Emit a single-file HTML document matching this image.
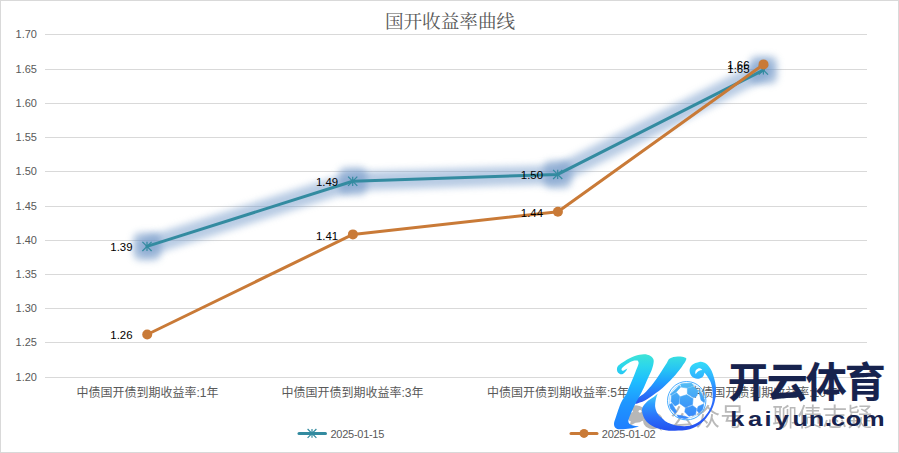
<!DOCTYPE html>
<html lang="zh-CN">
<head>
<meta charset="utf-8">
<title>国开收益率曲线</title>
<style>
html,body{margin:0;padding:0;background:#fff;}
body{width:899px;height:453px;overflow:hidden;position:relative;}
svg{position:absolute;left:0;top:0;display:block;}
.ax{font-family:"Liberation Sans","Noto Sans CJK SC",sans-serif;font-size:11px;fill:#595959;}
.cat{font-family:"Liberation Sans","Noto Sans CJK SC",sans-serif;font-size:12px;fill:#595959;}
.dl{font-family:"Liberation Sans","Noto Sans CJK SC",sans-serif;font-size:11.4px;fill:#000;}
.ttl{font-family:"Liberation Serif","Noto Serif CJK SC",serif;font-size:18.6px;fill:#595959;}
.lg{font-family:"Liberation Sans","Noto Sans CJK SC",sans-serif;font-size:11px;fill:#595959;letter-spacing:-0.27px;}
.wm{font-family:"Liberation Sans","Noto Sans CJK SC",sans-serif;font-weight:400;font-size:25px;fill:#9c9c9c;}
.cn{font-family:"Liberation Sans","Noto Sans CJK SC",sans-serif;font-weight:700;font-size:41px;fill:#17234e;stroke:#17234e;stroke-width:0.15px;}
.en{font-family:"Liberation Sans","Noto Sans CJK SC",sans-serif;font-weight:700;font-size:20px;fill:#17234e;}
</style>
</head>
<body>
<svg width="899" height="453" viewBox="0 0 899 453">
<defs>
  <filter id="glow" x="-10%" y="-30%" width="120%" height="160%">
    <feGaussianBlur stdDeviation="3.8"/>
  </filter>
  <linearGradient id="gstem" gradientUnits="userSpaceOnUse" x1="0" y1="354" x2="0" y2="430">
    <stop offset="0" stop-color="#3fe4d6"/>
    <stop offset="0.16" stop-color="#2cd6ec"/>
    <stop offset="0.36" stop-color="#1ebdff"/>
    <stop offset="0.62" stop-color="#1e98ff"/>
    <stop offset="1" stop-color="#1e7eff"/>
  </linearGradient>
  <linearGradient id="garm" gradientUnits="userSpaceOnUse" x1="0" y1="356" x2="0" y2="404">
    <stop offset="0" stop-color="#38dfe0"/>
    <stop offset="0.3" stop-color="#25c2f5"/>
    <stop offset="0.55" stop-color="#1f9dff"/>
    <stop offset="0.78" stop-color="#2876fa"/>
    <stop offset="1" stop-color="#2c52ec"/>
  </linearGradient>
  <linearGradient id="gleg" gradientUnits="userSpaceOnUse" x1="0" y1="393" x2="0" y2="431">
    <stop offset="0" stop-color="#48d2f8"/>
    <stop offset="0.3" stop-color="#2d9cff"/>
    <stop offset="0.65" stop-color="#2a6ffa"/>
    <stop offset="1" stop-color="#2450ee"/>
  </linearGradient>
  <linearGradient id="gsw" gradientUnits="userSpaceOnUse" x1="0" y1="362" x2="0" y2="431">
    <stop offset="0" stop-color="#34dcf8"/>
    <stop offset="0.2" stop-color="#30b8ff"/>
    <stop offset="0.42" stop-color="#2c80ff"/>
    <stop offset="0.7" stop-color="#2a62fa"/>
    <stop offset="1" stop-color="#2450f0"/>
  </linearGradient>
  <linearGradient id="gball" gradientUnits="userSpaceOnUse" x1="0" y1="382" x2="0" y2="420">
    <stop offset="0" stop-color="#55bff4"/>
    <stop offset="0.5" stop-color="#3f9ff7"/>
    <stop offset="1" stop-color="#3583fd"/>
  </linearGradient>
  <clipPath id="clipL"><rect x="600" y="340" width="75" height="113"/></clipPath>
  <clipPath id="clipR"><rect x="675" y="340" width="80" height="113"/></clipPath>
</defs>
<!-- background + border -->
<rect x="0" y="0" width="899" height="453" fill="#fff"/>
<rect x="0.5" y="0.5" width="898" height="452" fill="#fff" stroke="#d9d9d9" stroke-width="1"/>

<!-- gridlines -->
<g stroke="#d9d9d9" stroke-width="1" shape-rendering="crispEdges">
  <line x1="45" x2="867" y1="34.5" y2="34.5"/>
  <line x1="45" x2="867" y1="69.5" y2="69.5"/>
  <line x1="45" x2="867" y1="103.5" y2="103.5"/>
  <line x1="45" x2="867" y1="137.5" y2="137.5"/>
  <line x1="45" x2="867" y1="171.5" y2="171.5"/>
  <line x1="45" x2="867" y1="206.5" y2="206.5"/>
  <line x1="45" x2="867" y1="240.5" y2="240.5"/>
  <line x1="45" x2="867" y1="274.5" y2="274.5"/>
  <line x1="45" x2="867" y1="308.5" y2="308.5"/>
  <line x1="45" x2="867" y1="342.5" y2="342.5"/>
  <line x1="45" x2="867" y1="377.5" y2="377.5"/>
</g>

<!-- y axis labels -->
<g class="ax" text-anchor="end">
  <text x="37" y="38.1">1.70</text>
  <text x="37" y="73.1">1.65</text>
  <text x="37" y="107.1">1.60</text>
  <text x="37" y="141.1">1.55</text>
  <text x="37" y="175.1">1.50</text>
  <text x="37" y="210.1">1.45</text>
  <text x="37" y="244.1">1.40</text>
  <text x="37" y="278.1">1.35</text>
  <text x="37" y="312.1">1.30</text>
  <text x="37" y="346.1">1.25</text>
  <text x="37" y="381.1">1.20</text>
</g>

<!-- title -->
<text class="ttl" x="450" y="28" text-anchor="middle">国开收益率曲线</text>

<!-- category labels -->
<g class="cat" text-anchor="middle">
  <text x="147.5" y="397">中债国开债到期收益率:1年</text>
  <text x="352.5" y="397">中债国开债到期收益率:3年</text>
  <text x="558" y="397">中债国开债到期收益率:5年</text>
  <text x="763.5" y="397">中债国开债到期收益率:10年</text>
</g>

<!-- glow of first series -->
<g filter="url(#glow)" opacity="0.52">
  <polyline points="147.0,246.4 352.7,181.3 557.7,174.4 763.4,70.0" fill="none" stroke="#779ccb" stroke-width="19" stroke-linecap="round" stroke-linejoin="round"/>
</g>
<g filter="url(#glow)" opacity="0.5">
  <g fill="#6890c3">
    <rect x="133.0" y="232.4" width="28" height="28" rx="7"/>
    <rect x="338.7" y="167.3" width="28" height="28" rx="7"/>
    <rect x="543.7" y="160.4" width="28" height="28" rx="7"/>
    <rect x="749.4" y="56.0" width="28" height="28" rx="7"/>
  </g>
</g>

<!-- series 2025-01-15 -->
<polyline points="147.0,246.4 352.7,181.3 557.7,174.4 763.4,70.0" fill="none" stroke="#338ba0" stroke-width="3" stroke-linecap="round" stroke-linejoin="round"/>
<g stroke="#338ba0" stroke-width="1.2" fill="none">
  <path d="M142.4 241.8l9.2 9.2m0 -9.2l-9.2 9.2m4.6 -9.2v9.2"/>
  <path d="M348.1 176.7l9.2 9.2m0 -9.2l-9.2 9.2m4.6 -9.2v9.2"/>
  <path d="M553.1 169.8l9.2 9.2m0 -9.2l-9.2 9.2m4.6 -9.2v9.2"/>
  <path d="M758.8 65.4l9.2 9.2m0 -9.2l-9.2 9.2m4.6 -9.2v9.2"/>
</g>

<!-- series 2025-01-02 -->
<polyline points="147.2,334.5 352.9,234.4 557.9,211.8 763.5,64.4" fill="none" stroke="#c97a37" stroke-width="3" stroke-linecap="round" stroke-linejoin="round"/>
<g fill="#c97a37">
  <circle cx="147.2" cy="334.5" r="5"/>
  <circle cx="352.9" cy="234.4" r="5"/>
  <circle cx="557.9" cy="211.8" r="5"/>
  <circle cx="763.5" cy="64.4" r="5"/>
</g>

<!-- data labels -->
<g class="dl" text-anchor="end">
  <text x="132.5" y="251">1.39</text>
  <text x="338.2" y="186">1.49</text>
  <text x="543" y="179">1.50</text>
  <text x="749.5" y="72.8">1.65</text>
  <text x="132.5" y="339">1.26</text>
  <text x="338.2" y="239.5">1.41</text>
  <text x="543" y="216.5">1.44</text>
  <text x="749.5" y="68.6">1.66</text>
</g>

<!-- legend -->
<line x1="299" x2="325.5" y1="433.4" y2="433.4" stroke="#338ba0" stroke-width="3" stroke-linecap="round"/>
<path d="M307.6 429.0l8.8 8.8m0 -8.8l-8.8 8.8m4.4 -8.8v8.8" stroke="#338ba0" stroke-width="1.2" fill="none"/>
<text class="lg" x="330.5" y="437.5">2025-01-15</text>
<line x1="571" x2="597" y1="433.4" y2="433.4" stroke="#c97a37" stroke-width="3" stroke-linecap="round"/>
<circle cx="584" cy="433.4" r="4.5" fill="#c97a37"/>
<text class="lg" x="601.8" y="437.5">2025-01-02</text>

<!-- watermark -->
<g id="wm" opacity="0.7">
  <g fill="#9a9a9a">
    <ellipse cx="636" cy="414" rx="10" ry="8.8"/>
    <path d="M631 420.500l-1.500 5.500l6.500-3.500z"/>
    <ellipse cx="653" cy="420.800" rx="10" ry="8.400"/>
    <path d="M657.500 427.500l4 3.500l-0.500-5.500z"/>
  </g>
  <circle cx="631.3" cy="411.300" r="1.400" fill="#fff"/>
  <circle cx="640" cy="411.300" r="1.400" fill="#fff"/>
  <text class="wm" x="670.2" y="426">公众号</text>
  <text class="wm" x="747" y="425">·</text>
  <text class="wm" x="772.3" y="426">聊债志疑</text>
</g>

<!-- logo -->
<g id="logo">
  <path fill="url(#garm)" d="M669.8 358.4C671.6 357.3 675.2 356.7 677.7 356.5C680.2 356.3 683.3 356.9 684.7 357.4C686.1 357.9 686.7 358.0 686.2 359.6C685.7 361.2 683.9 363.9 681.7 366.9C679.5 369.9 675.9 374.3 672.8 377.8C669.6 381.3 665.8 385.1 662.8 387.7C659.8 390.3 657.9 391.6 654.9 393.7C651.9 395.8 648.2 398.8 645.0 400.5C641.8 402.2 637.4 403.3 635.5 404.0C635.2 403.2 634.3 400.8 634.0 400.0C635.6 399.0 640.0 396.4 642.0 395.0C644.0 393.6 644.2 393.6 646.0 391.7C647.8 389.8 650.6 386.8 652.9 383.8C655.2 380.8 657.6 377.3 659.9 373.8C662.2 370.3 665.1 365.5 666.8 362.9C668.4 360.3 668.0 359.5 669.8 358.4Z"/>
  <path fill="url(#gstem)" d="M627.4 368.4C627.0 369.0 626.3 370.7 625.5 371.6C624.7 372.5 623.7 373.6 622.8 374.0C621.9 374.4 621.2 374.5 620.3 374.2C619.4 373.9 618.1 372.9 617.6 372.0C617.1 371.1 616.8 369.7 617.0 368.6C617.2 367.5 617.3 366.6 618.6 365.3C619.9 364.0 622.2 362.4 624.9 360.9C627.6 359.3 631.6 357.1 634.8 356.0C637.9 354.9 641.3 354.3 643.8 354.2C646.3 354.1 648.1 354.7 649.7 355.5C651.3 356.3 652.7 357.7 653.3 359.0C653.9 360.3 653.8 361.4 653.5 363.2C653.2 365.0 652.7 367.3 651.7 369.9C650.7 372.5 649.0 375.8 647.7 378.8C646.4 381.8 644.9 385.2 643.8 387.7C642.6 390.2 642.3 390.8 640.8 393.7C639.3 396.6 636.6 401.2 634.8 404.9C633.0 408.6 631.0 413.0 629.9 415.8C628.8 418.6 628.2 420.3 628.4 421.8C628.6 423.3 629.5 424.2 631.3 425.0C633.1 425.8 637.5 426.1 639.0 426.4C637.2 426.8 633.2 428.1 630.0 428.6C626.8 429.1 622.4 429.4 620.0 429.3C617.6 429.2 616.6 428.9 615.6 428.0C614.6 427.1 613.9 425.7 614.0 423.8C614.1 421.9 614.9 420.3 616.0 416.8C617.1 413.3 619.2 406.8 620.9 402.9C622.6 399.0 625.1 396.2 626.4 393.7C627.7 391.2 627.9 390.0 628.9 387.7C629.9 385.4 631.1 382.6 632.3 379.8C633.4 377.0 634.8 373.6 635.8 370.9C636.8 368.2 638.3 365.1 638.6 363.4C638.9 361.7 637.8 361.1 637.6 360.5C636.6 360.6 634.6 360.3 632.8 360.9C631.0 361.5 628.6 362.8 626.9 363.9C625.1 365.0 623.2 366.7 622.3 367.7C621.4 368.7 621.5 369.5 621.6 370.0C621.7 370.5 622.4 370.8 623.0 370.8C623.6 370.8 624.3 370.2 625.0 369.8C625.7 369.4 626.9 368.7 627.4 368.4Z"/>
  <path fill="url(#gsw)" d="M657.7 393.5C657.3 394.8 656.1 397.7 655.7 399.9C655.3 402.1 654.9 404.6 655.2 406.9C655.5 409.2 656.5 411.8 657.7 413.8C658.9 415.8 660.9 417.3 662.6 418.8C664.3 420.3 665.4 421.7 667.9 422.8C670.4 423.9 674.2 425.2 677.9 425.7C681.5 426.2 686.2 426.4 689.8 425.7C693.4 425.0 696.7 423.4 699.7 421.3C702.7 419.2 705.6 415.9 707.7 412.8C709.8 409.7 711.3 405.9 712.1 402.9C712.9 399.9 712.8 397.5 712.7 394.7C712.7 391.9 712.3 388.4 711.8 386.0C711.3 383.6 710.7 382.3 709.8 380.5C708.9 378.7 707.4 376.5 706.5 375.2C705.6 373.9 704.7 373.0 704.3 372.5C704.2 372.9 704.2 373.8 703.9 374.6C703.6 375.4 703.4 376.6 702.3 377.3C701.2 378.0 699.0 379.0 697.2 378.8C695.4 378.6 693.0 377.7 691.7 376.3C690.4 374.9 689.6 372.5 689.6 370.6C689.6 368.7 690.4 366.4 692.0 365.0C693.6 363.6 697.2 362.4 699.2 362.0C701.2 361.6 702.4 362.0 703.9 362.6C705.4 363.2 707.2 364.5 708.5 365.9C709.8 367.3 710.9 369.2 711.8 371.2C712.7 373.2 713.4 375.4 714.1 377.9C714.8 380.4 715.5 383.3 715.8 386.0C716.1 388.7 716.1 391.2 715.9 394.0C715.6 396.8 715.3 399.8 714.3 402.9C713.3 406.0 712.0 409.5 709.9 412.8C707.8 416.1 705.1 420.1 701.7 422.8C698.4 425.5 694.3 427.9 689.8 429.2C685.3 430.5 678.9 430.5 674.9 430.7C670.9 430.9 669.0 430.8 665.6 430.2C662.2 429.6 657.9 428.6 654.7 427.2C651.6 425.8 648.7 423.9 646.7 421.8C644.7 419.7 643.5 417.1 642.8 414.8C642.1 412.5 641.6 410.0 642.3 407.9C642.9 405.8 644.8 403.7 646.7 401.9C648.6 400.1 651.9 398.4 653.7 397.0C655.5 395.6 656.9 394.2 657.7 393.5Z" clip-path="url(#clipR)"/>
  <path fill="url(#gleg)" d="M657.7 393.5C657.3 394.8 656.1 397.7 655.7 399.9C655.3 402.1 654.9 404.6 655.2 406.9C655.5 409.2 656.5 411.8 657.7 413.8C658.9 415.8 660.9 417.3 662.6 418.8C664.3 420.3 665.4 421.7 667.9 422.8C670.4 423.9 674.2 425.2 677.9 425.7C681.5 426.2 686.2 426.4 689.8 425.7C693.4 425.0 696.7 423.4 699.7 421.3C702.7 419.2 705.6 415.9 707.7 412.8C709.8 409.7 711.3 405.9 712.1 402.9C712.9 399.9 712.8 397.5 712.7 394.7C712.7 391.9 712.3 388.4 711.8 386.0C711.3 383.6 710.7 382.3 709.8 380.5C708.9 378.7 707.4 376.5 706.5 375.2C705.6 373.9 704.7 373.0 704.3 372.5C704.2 372.9 704.2 373.8 703.9 374.6C703.6 375.4 703.4 376.6 702.3 377.3C701.2 378.0 699.0 379.0 697.2 378.8C695.4 378.6 693.0 377.7 691.7 376.3C690.4 374.9 689.6 372.5 689.6 370.6C689.6 368.7 690.4 366.4 692.0 365.0C693.6 363.6 697.2 362.4 699.2 362.0C701.2 361.6 702.4 362.0 703.9 362.6C705.4 363.2 707.2 364.5 708.5 365.9C709.8 367.3 710.9 369.2 711.8 371.2C712.7 373.2 713.4 375.4 714.1 377.9C714.8 380.4 715.5 383.3 715.8 386.0C716.1 388.7 716.1 391.2 715.9 394.0C715.6 396.8 715.3 399.8 714.3 402.9C713.3 406.0 712.0 409.5 709.9 412.8C707.8 416.1 705.1 420.1 701.7 422.8C698.4 425.5 694.3 427.9 689.8 429.2C685.3 430.5 678.9 430.5 674.9 430.7C670.9 430.9 669.0 430.8 665.6 430.2C662.2 429.6 657.9 428.6 654.7 427.2C651.6 425.8 648.7 423.9 646.7 421.8C644.7 419.7 643.5 417.1 642.8 414.8C642.1 412.5 641.6 410.0 642.3 407.9C642.9 405.8 644.8 403.7 646.7 401.9C648.6 400.1 651.9 398.4 653.7 397.0C655.5 395.6 656.9 394.2 657.7 393.5Z" clip-path="url(#clipL)"/>
  <path fill="#fff" d="M695.600 374.200C694.600 371.500 695.600 369.300 698.100 368.400C699.800 367.900 701.400 368.600 702.300 369.900C701 369.900 699.700 370.300 698.700 371.100C697.300 372.100 696.400 373.300 695.600 374.200Z"/>
  <circle cx="686.700" cy="400.700" r="19.200" fill="none" stroke="#4aaeff" stroke-width="1"/>
  <circle cx="686.700" cy="400.700" r="17.400" fill="none" stroke="#8ccdff" stroke-width="0.600"/>
  <path fill="url(#gball)" stroke="url(#gball)" stroke-width="0.6" stroke-linejoin="round" d="M680.7 384.0L691.4 383.0L693.5 386.0L687.4 388.1L681.2 387.1ZM670.5 394.2L679.2 385.5L680.7 387.1L676.1 392.2L671.0 395.2ZM671.5 395.7L676.6 392.7L679.7 396.3L678.7 403.9L675.1 405.9L671.0 401.4ZM680.2 396.8L686.8 394.7L693.0 398.8L692.5 404.4L685.3 407.5L679.7 403.4ZM687.4 388.6L693.5 386.6L698.1 390.6L697.0 395.7L693.5 397.8L687.4 393.7ZM698.6 390.1L701.6 393.2L704.7 400.3L704.2 402.4L701.1 400.3ZM698.1 406.5L703.7 403.9L702.7 409.5L699.1 413.1L697.0 410.5ZM685.3 408.5L692.5 405.4L696.5 408.5L695.5 414.6L688.9 416.2L684.8 412.1ZM669.5 404.4L672.0 403.4L676.6 411.6L675.1 413.6L670.5 408.5ZM677.2 415.1L684.8 416.2L688.4 417.7L684.8 418.7L678.2 417.2Z"/>
</g>

<!-- logo text -->
<text class="cn" x="727.8" y="397.3" textLength="158" lengthAdjust="spacing">开云体育</text>
<text class="en" transform="scale(1.27,1)" x="575.0 588.9 602.0 610.1 624.0 636.8 649.5 654.4 665.9 678.7" y="426.3">kaiyun.com</text>
</svg>
</body>
</html>
